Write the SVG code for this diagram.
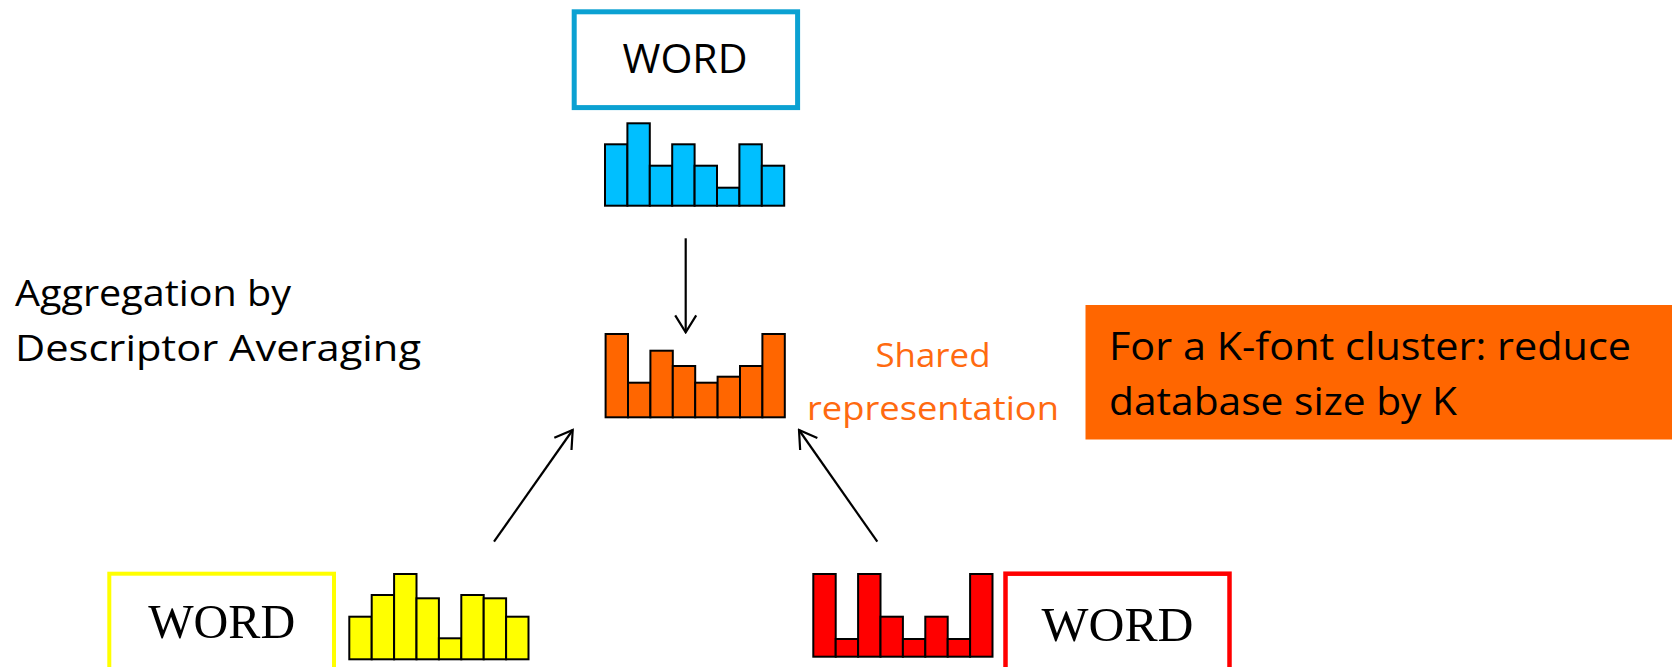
<svg xmlns="http://www.w3.org/2000/svg" width="1672" height="667" viewBox="0 0 1672 667">
  <defs>
    <style>
      .bar { stroke: #000; stroke-width: 2; }
      .blue { fill: #00BFFF; }
      .orange { fill: #FF6600; }
      .yellow { fill: #FFFF00; }
      .red { fill: #FF0000; }
      .sans { font-family: "Open Sans", "Liberation Sans", sans-serif; }
      .serif { font-family: "Liberation Serif", "DejaVu Serif", serif; }
      .conn { stroke: #000; stroke-width: 2.2; fill: none; marker-end: url(#open); }
    </style>
    <marker id="open" markerUnits="userSpaceOnUse" viewBox="-20 -12 22 24" markerWidth="22" markerHeight="24" refX="0" refY="0" orient="auto">
      <path d="M-17,-10.5 L0,0 L-17,10.5" fill="none" stroke="#000" stroke-width="2.2"/>
    </marker>
  </defs>
  <rect width="1672" height="667" fill="#fff"/>

  <g id="blue-word">
    <rect x="574.2" y="11.8" width="223.4" height="95.8" fill="#fff" stroke="#0BA1D2" stroke-width="5"/>
    <text class="sans" x="685" y="72.7" font-size="40.5" text-anchor="middle" textLength="125" lengthAdjust="spacingAndGlyphs">WORD</text>
  </g>

  <g id="blue-hist">
    <rect class="bar blue" x="605" y="144.3" width="22.4" height="61.4"/>
    <rect class="bar blue" x="627.4" y="123.3" width="22.4" height="82.4"/>
    <rect class="bar blue" x="649.8" y="165.7" width="22.4" height="40"/>
    <rect class="bar blue" x="672.2" y="144.3" width="22.4" height="61.4"/>
    <rect class="bar blue" x="694.6" y="165.7" width="22.4" height="40"/>
    <rect class="bar blue" x="717" y="187.7" width="22.4" height="18"/>
    <rect class="bar blue" x="739.4" y="144.3" width="22.4" height="61.4"/>
    <rect class="bar blue" x="761.8" y="165.7" width="22.4" height="40"/>
  </g>

  <g id="shared-hist">
    <rect class="bar orange" x="605.6" y="334" width="22.4" height="83.3"/>
    <rect class="bar orange" x="628" y="382.7" width="22.4" height="34.6"/>
    <rect class="bar orange" x="650.4" y="350.7" width="22.4" height="66.6"/>
    <rect class="bar orange" x="672.8" y="366" width="22.4" height="51.3"/>
    <rect class="bar orange" x="695.2" y="382.7" width="22.4" height="34.6"/>
    <rect class="bar orange" x="717.6" y="376.7" width="22.4" height="40.6"/>
    <rect class="bar orange" x="740" y="366" width="22.4" height="51.3"/>
    <rect class="bar orange" x="762.4" y="334" width="22.4" height="83.3"/>
  </g>

  <g id="shared-label">
    <text class="sans" x="933" y="366.7" font-size="33" fill="#FF6A10" text-anchor="middle" textLength="115" lengthAdjust="spacingAndGlyphs">Shared</text>
    <text class="sans" x="933" y="420" font-size="33" fill="#FF6A10" text-anchor="middle" textLength="252" lengthAdjust="spacingAndGlyphs">representation</text>
  </g>

  <g id="aggregation-label">
    <text class="sans" x="15" y="306" font-size="37" textLength="276" lengthAdjust="spacingAndGlyphs">Aggregation by</text>
    <text class="sans" x="15" y="360.7" font-size="37" textLength="406" lengthAdjust="spacingAndGlyphs">Descriptor Averaging</text>
  </g>

  <g id="reduction-box">
    <rect x="1085.5" y="305" width="586.5" height="134.5" fill="#FF6600"/>
    <text class="sans" x="1109" y="360" font-size="39" textLength="522" lengthAdjust="spacingAndGlyphs">For a K-font cluster: reduce</text>
    <text class="sans" x="1109" y="415" font-size="39" textLength="348" lengthAdjust="spacingAndGlyphs">database size by K</text>
  </g>

  <g id="yellow-word">
    <rect x="109.3" y="573.7" width="224.7" height="120" fill="#fff" stroke="#FFFF00" stroke-width="4"/>
    <text class="serif" x="221.7" y="638" font-size="48" text-anchor="middle" textLength="147" lengthAdjust="spacingAndGlyphs">WORD</text>
  </g>

  <g id="yellow-hist">
    <rect class="bar yellow" x="349.3" y="616.7" width="22.4" height="42.6"/>
    <rect class="bar yellow" x="371.7" y="595" width="22.4" height="64.3"/>
    <rect class="bar yellow" x="394.1" y="574" width="22.4" height="85.3"/>
    <rect class="bar yellow" x="416.5" y="598.3" width="22.4" height="61"/>
    <rect class="bar yellow" x="438.9" y="638.3" width="22.4" height="21"/>
    <rect class="bar yellow" x="461.3" y="595" width="22.4" height="64.3"/>
    <rect class="bar yellow" x="483.7" y="598.3" width="22.4" height="61"/>
    <rect class="bar yellow" x="506.1" y="616.7" width="22.4" height="42.6"/>
  </g>

  <g id="red-hist">
    <rect class="bar red" x="813.3" y="574" width="22.4" height="82.7"/>
    <rect class="bar red" x="835.7" y="639" width="22.4" height="17.7"/>
    <rect class="bar red" x="858.1" y="574" width="22.4" height="82.7"/>
    <rect class="bar red" x="880.5" y="616.7" width="22.4" height="40"/>
    <rect class="bar red" x="902.9" y="639" width="22.4" height="17.7"/>
    <rect class="bar red" x="925.3" y="616.7" width="22.4" height="40"/>
    <rect class="bar red" x="947.7" y="639" width="22.4" height="17.7"/>
    <rect class="bar red" x="970.1" y="574" width="22.4" height="82.7"/>
  </g>

  <g id="red-word">
    <rect x="1005.5" y="573.7" width="224" height="120" fill="#fff" stroke="#FF0000" stroke-width="4.5"/>
    <text class="serif" x="1117.5" y="641" font-size="48" text-anchor="middle" textLength="152" lengthAdjust="spacingAndGlyphs">WORD</text>
  </g>

  <g id="connectors">
    <line class="conn" x1="685.7" y1="238.3" x2="685.7" y2="332.3"/>
    <line class="conn" x1="494" y1="541.7" x2="572.7" y2="430"/>
    <line class="conn" x1="877.3" y1="541.7" x2="799" y2="430"/>
  </g>
</svg>
